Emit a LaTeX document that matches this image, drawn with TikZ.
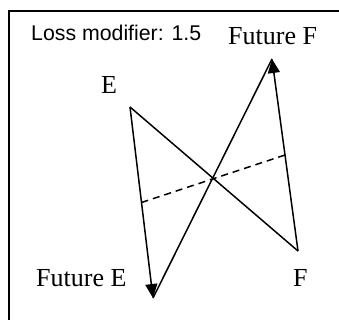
\documentclass[tikz,border=0pt]{standalone}
\usepackage{fontspec}
\setmainfont{Liberation Serif}
\newfontfamily\arialfont{Liberation Sans}
\usetikzlibrary{arrows.meta,calc}
\begin{document}
\begin{tikzpicture}[x=1pt,y=-1pt,
  conn/.style={line width=1.5pt},
  arr/.style={conn,-{Triangle[length=14pt,width=12pt]}},
  lbl/.style={font=\fontsize{26}{26}\selectfont,inner sep=0pt,anchor=base west},
  frameline/.style={line width=1.8pt}]
\useasboundingbox (0,0) rectangle (339,320);
\coordinate (fbl) at (9,321);
\coordinate (ftl) at (9,11);
\coordinate (ftr) at (340,11);
\draw[frameline] (fbl) -- (ftl) -- (ftr);
\node[inner sep=0pt,anchor=base west,font=\arialfont\fontsize{21.3}{21.3}\selectfont] (loss) at (31,41) {Loss modifier: 1.5};
\node[lbl] (lE) at (101,94) {E};
\node[lbl] (lFF) at (228,45) {Future F};
\node[lbl] (lFE) at (36,286) {Future E};
\node[lbl] (lF) at (293,286) {F};
\coordinate (E) at (130,107);
\coordinate (F) at (298,251);
\coordinate (FE) at (153,298);
\coordinate (FF) at (272,59);
\draw[conn] (E) -- (F);
\draw[conn] (FE) -- (FF);
\draw[arr] (E) -- (FE);
\draw[arr] (F) -- (FF);
\draw[conn,dashed,dash pattern=on 7pt off 5pt] ($(E)!0.5!(FE)$) coordinate (mE) -- ($(F)!0.5!(FF)$) coordinate (mF);
\end{tikzpicture}
\end{document}
